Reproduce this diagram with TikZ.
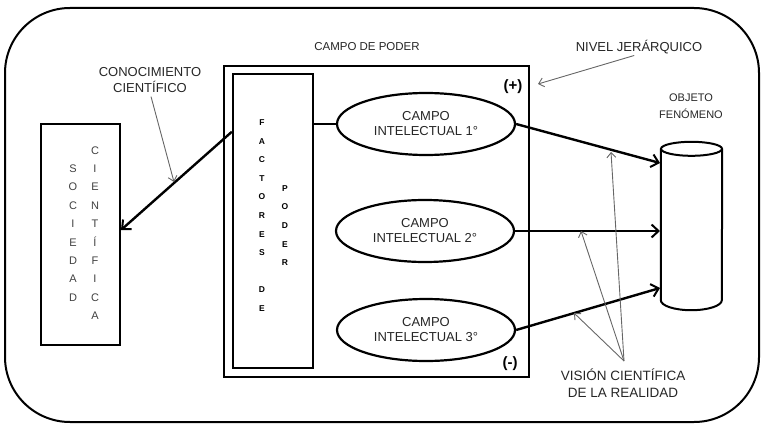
\documentclass[tikz,border=0pt]{standalone}
\usepackage{fontspec}
\setmainfont{Liberation Sans}
\usetikzlibrary{arrows.meta,calc,shapes.geometric}
\begin{document}
\begin{tikzpicture}[x=1pt,y=-1pt,
  txt/.style={text=black!85, inner sep=0pt, align=center},
  box/.style={draw, line width=2.4pt, inner sep=0pt},
  fld/.style={draw, ellipse, line width=2.2pt, minimum width=178pt, minimum height=62pt, inner sep=0pt, align=center, text=black!85, font=\fontsize{13}{15}\selectfont},
  col/.style={inner sep=0pt, align=center, text=black!75, font=\fontsize{11}{18.4}\selectfont},
  bcol/.style={inner sep=0pt, align=center, text=black, font=\fontsize{8.5}{18.6}\selectfont\bfseries},
  bigarrow/.style={line width=2.4pt, -{Straight Barb[length=7pt,width=13pt,line width=2pt]}},
  thinarrow/.style={line width=0.9pt, draw=black!60, -{Straight Barb[length=5pt,width=9pt,line width=0.9pt]}},
]
\useasboundingbox (0,0) rectangle (762,425);
% outer frame
\draw[line width=2pt, rounded corners=65pt] (5,8) rectangle (759,422);

% boxes
\node[box, minimum width=79pt, minimum height=221pt] (soc) at (80.5,234.5) {};
\node[box, minimum width=305pt, minimum height=311pt] (cp) at (376.5,221.5) {};
\node[box, minimum width=80pt, minimum height=294pt] (fac) at (273,221) {};

% vertical letters
\node[col] (socA) at (73,233) {S\\O\\C\\I\\E\\D\\A\\D};
\node[col] (socB) at (95,233) {C\\I\\E\\N\\T\\Í\\F\\I\\C\\A};
\node[bcol] (facA) at (262,215.5) {F\\A\\C\\T\\O\\R\\E\\S\\[18.6pt]D\\E};
\node[bcol] (facB) at (285,225.5) {P\\O\\D\\E\\R};

% fields
\node[fld] (e1) at (426,124) {CAMPO\\INTELECTUAL 1°};
\node[fld] (e2) at (425,231) {CAMPO\\INTELECTUAL 2°};
\node[fld] (e3) at (426,330) {CAMPO\\INTELECTUAL 3°};

% cylinder
\node[minimum width=61pt, minimum height=168pt, inner sep=0pt] (cyl) at (691.5,226) {};
\draw[line width=2pt] ($(cyl.north)+(0,7)$) ellipse [x radius=30.5pt, y radius=7pt];
\draw[line width=2pt] ($(cyl.north west)+(0,7)$) -- ($(cyl.south west)+(0,-10)$)
  arc[start angle=180, end angle=360, x radius=30.5pt, y radius=10pt] -- ($(cyl.north east)+(0,7)$);

% labels
\node[txt, font=\fontsize{11.5}{14}\selectfont] (cdp) at (367,47) {CAMPO DE PODER};
\node[txt, font=\fontsize{13}{15}\selectfont] (nj) at (639,47) {NIVEL JERÁRQUICO};
\node[txt, font=\fontsize{13}{16}\selectfont] (kc) at (150,80) {CONOCIMIENTO\\CIENTÍFICO};
\node[txt, font=\fontsize{11}{17}\selectfont] (obj) at (691,106) {OBJETO\\FENÓMENO};
\node[txt, font=\fontsize{13.5}{17}\selectfont] (vc) at (623,383) {VISIÓN CIENTÍFICA\\DE LA REALIDAD};
\node[txt, text=black, font=\fontsize{15}{17}\selectfont\bfseries] (plus) at (513,87) {(+)};
\node[txt, text=black, font=\fontsize{15}{17}\selectfont\bfseries] (minus) at (510,364) {(-)};

% connector endpoints
\coordinate (c1) at (660,163);
\coordinate (c2) at (660,231);
\coordinate (c3) at (660,288);
\coordinate (f1) at ($(fac.north west)+(0,59)$);
\coordinate (s1) at (121,230);
\coordinate (k1) at (174,182);
\coordinate (n1) at (538,84);
\coordinate (vp) at (624,361);
\coordinate (v1) at (611,152);
\coordinate (v2) at (581,231);
\coordinate (v3) at (574,313);

% thick connectors
\draw[line width=2pt] (e1.west -| fac.east) -- (e1.west);
\draw[bigarrow] (e1.east) -- (c1);
\draw[bigarrow] (e2.east) -- (c2);
\draw[bigarrow] (e3.east) -- (c3);
\draw[bigarrow] (f1) -- (s1);

% thin pointers
\draw[thinarrow, shorten <=4pt] (kc.south) -- (k1);
\draw[thinarrow, shorten <=5pt] (nj.south) -- (n1);
\draw[thinarrow] (vp) -- (v1);
\draw[thinarrow] (vp) -- (v2);
\draw[thinarrow] (vp) -- (v3);
\end{tikzpicture}
\end{document}
